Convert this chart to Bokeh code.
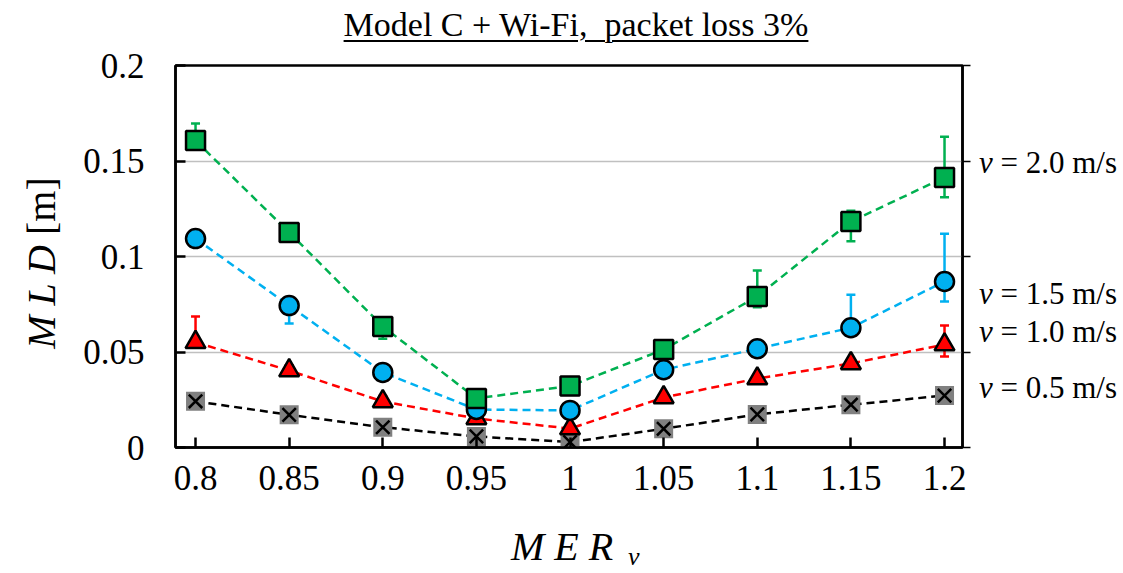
from bokeh.plotting import figure
from bokeh.models import LinearAxis, FixedTicker, Range1d, Div
from bokeh.layouts import column
from bokeh.embed import file_html
from bokeh.resources import INLINE

# ---------------- data ----------------
mer = [0.8, 0.85, 0.9, 0.95, 1.0, 1.05, 1.1, 1.15, 1.2]
x_tick_labels = ["0.8", "0.85", "0.9", "0.95", "1", "1.05", "1.1", "1.15", "1.2"]
y_ticks = [0, 0.05, 0.1, 0.15, 0.2]
y_tick_labels = ["0", "0.05", "0.1", "0.15", "0.2"]

speeds = ["2.0", "1.5", "1.0", "0.5"]

mld_v20 = [0.1607, 0.1126, 0.0634, 0.0257, 0.0322, 0.0513, 0.0791, 0.1183, 0.1414]
mld_v20_hi = [0.1696, 0.1150, 0.0660, 0.0280, 0.0340, 0.0540, 0.0927, 0.1240, 0.1627]
mld_v20_lo = [0.1580, 0.1100, 0.0570, 0.0240, 0.0300, 0.0490, 0.0734, 0.1080, 0.1310]

mld_v15 = [0.1094, 0.0743, 0.0393, 0.0199, 0.0194, 0.0407, 0.0517, 0.0627, 0.0869]
mld_v15_hi = [0.1120, 0.0770, 0.0420, 0.0220, 0.0220, 0.0430, 0.0540, 0.0800, 0.1119]
mld_v15_lo = [0.1070, 0.0649, 0.0370, 0.0180, 0.0170, 0.0380, 0.0490, 0.0600, 0.0764]

mld_v10 = [0.0551, 0.0403, 0.0241, 0.0152, 0.0099, 0.0262, 0.0361, 0.0440, 0.0539]
mld_v10_hi = [0.0686, 0.0430, 0.0270, 0.0170, 0.0120, 0.0280, 0.0380, 0.0460, 0.0639]
mld_v10_lo = [0.0530, 0.0380, 0.0220, 0.0130, 0.0080, 0.0240, 0.0340, 0.0420, 0.0476]

mld_v05 = [0.0242, 0.0171, 0.0106, 0.0058, 0.0028, 0.0098, 0.0173, 0.0224, 0.0272]

# ---------------- layout ----------------
W, H = 1123, 573
X0, X1 = 0.7893, 1.2096
Y0, Y1 = 0.0, 0.2
FL, FT, FW, FH = 175, 65, 787, 382

FONT = "Liberation Serif"

p = figure(
    width=W, height=H,
    frame_width=FW, frame_height=FH,
    min_border_left=FL, min_border_right=W - FL - FW,
    min_border_top=FT, min_border_bottom=H - FT - FH,
    x_range=Range1d(X0, X1), y_range=Range1d(Y0, Y1),
    output_backend="svg", toolbar_location=None,
    background_fill_color="white", border_fill_color="white",
)

p.outline_line_color = "black"
p.outline_line_width = 2.5
p.xgrid.visible = False
p.ygrid.grid_line_color = "#c0c0c0"
p.ygrid.grid_line_width = 1.5
p.ygrid.ticker = FixedTicker(ticks=y_ticks)

# x axis
p.xaxis.ticker = FixedTicker(ticks=mer)
p.xaxis.major_label_overrides = {t: s for t, s in zip(mer, x_tick_labels)}
p.xaxis.major_tick_in = 10
p.xaxis.major_tick_out = 0
p.xaxis.minor_tick_in = 0
p.xaxis.minor_tick_out = 0
p.xaxis.major_tick_line_width = 2.5
p.xaxis.axis_line_width = 2.5
p.xaxis.major_label_text_font = FONT
p.xaxis.major_label_text_font_size = "35px"
p.xaxis.major_label_text_color = "black"
p.xaxis.major_label_standoff = 18

# y axis
p.yaxis.ticker = FixedTicker(ticks=y_ticks)
p.yaxis.major_label_overrides = {t: s for t, s in zip(y_ticks, y_tick_labels)}
p.yaxis.major_tick_in = 10
p.yaxis.major_tick_out = 0
p.yaxis.minor_tick_in = 0
p.yaxis.minor_tick_out = 0
p.yaxis.major_tick_line_width = 2.5
p.yaxis.axis_line_width = 2.5
p.yaxis.major_label_text_font = FONT
p.yaxis.major_label_text_font_size = "35px"
p.yaxis.major_label_text_color = "black"
p.yaxis.major_label_standoff = 31

# right axis: ticks only
ra = LinearAxis(ticker=FixedTicker(ticks=y_ticks))
ra.major_label_overrides = {t: " " for t in y_ticks}
ra.major_tick_in = 0
ra.major_tick_out = 8
ra.minor_tick_in = 0
ra.minor_tick_out = 0
ra.major_tick_line_width = 1.5
ra.axis_line_width = 2.5
ra.major_label_text_font_size = "1px"
p.add_layout(ra, "right")

# ---------------- series ----------------
series = [
    (mld_v10, mld_v10_hi, mld_v10_lo, "#ff0000"),
    (mld_v15, mld_v15_hi, mld_v15_lo, "#00b0f0"),
    (mld_v20, mld_v20_hi, mld_v20_lo, "#00b050"),
]

for vals, hi, lo, col in series:
    p.segment(x0=mer, y0=lo, x1=mer, y1=hi, line_color=col, line_width=2.5)
    p.scatter(mer, hi, marker="dash", size=9, line_color=col, line_width=2.5)
    p.scatter(mer, lo, marker="dash", size=9, line_color=col, line_width=2.5)

p.line(mer, mld_v05, line_color="#000000", line_width=2.5, line_dash="8 5")
for vals, hi, lo, col in series:
    p.line(mer, vals, line_color=col, line_width=2.5, line_dash="8 5")

# markers (drawn in order: black, red, blue, green)
p.scatter(mer, mld_v05, marker="square", size=19, fill_color="#808080", line_color=None)
p.scatter(mer, mld_v05, marker="x", size=19, line_color="black", line_width=2.5)
p.scatter(mer, mld_v10, marker="triangle", size=20, fill_color="#ff0000", line_color="black", line_width=2.5)
p.scatter(mer, mld_v15, marker="circle", size=19, fill_color="#00b0f0", line_color="black", line_width=2.5)
p.scatter(mer, mld_v20, marker="square", size=19, fill_color="#00b050", line_color="black", line_width=2.5)

# ---------------- texts: an HTML overlay (allows italic, underline, subscript) ----------------
ASC = 0.8375  # baseline offset (in em) inside a line box of line-height 1


def span(x, baseline, fs, html, anchor="left", extra=""):
    top = baseline - ASC * fs
    tx = "translateX(-50%)" if anchor == "center" else "none"
    return (f'<span style="position:absolute;left:{x}px;top:{top:.1f}px;'
            f'font-size:{fs}px;line-height:1;white-space:nowrap;'
            f'transform:{tx};{extra}">{html}</span>')


spans = []
# title
spans.append(span(571, 31.5, 34, "Model C + Wi-Fi,&nbsp; packet loss 3%", anchor="center",
                  extra="text-decoration:underline;text-decoration-thickness:2px;"
                        "text-underline-offset:4px;"))
# x axis title  M E R_v
spans.append(span(506, 555, 40, "<i>M E R</i>"))
spans.append(span(623, 561, 26, "<i>v</i>"))
# y axis title  M L D [m]  (rotated)
spans.append('<span style="position:absolute;left:36.5px;top:258px;font-size:40px;'
             'line-height:1;white-space:nowrap;'
             'transform:translate(-50%,-50%) rotate(-90deg);"><i>M L D</i> [m]</span>')
# series labels
label_centers = [157, 288, 326, 382]
for spd, cy in zip(speeds, label_centers):
    spans.append(span(974, cy + 10.5, 31, f"<i>v</i> = {spd} m/s"))

html = ('<div style="position:relative;width:%dpx;height:%dpx;'
        'font-family:\'Liberation Serif\';color:black;">' % (W, H)) + "".join(spans) + "</div>"

overlay = Div(text=html, width=W, height=H,
              styles={"position": "absolute", "left": "0px", "top": "0px",
                      "pointer-events": "none"})

layout = column(p, overlay)
open("out.html", "w").write(file_html(layout, INLINE))
